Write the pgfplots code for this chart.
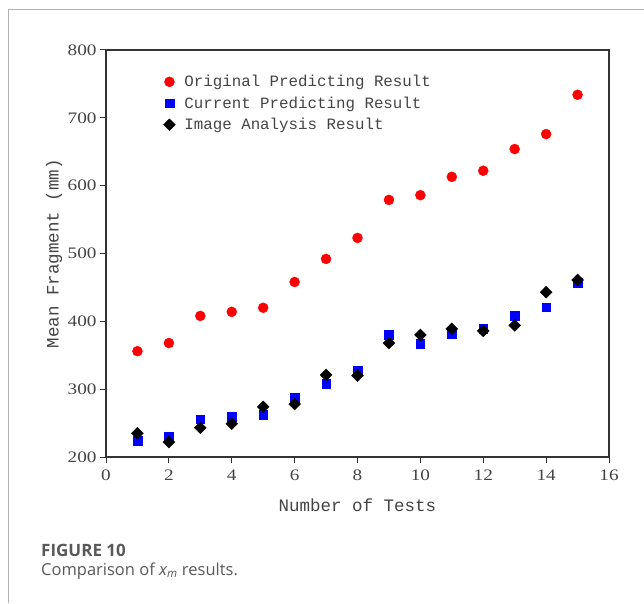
\documentclass[border=0pt]{standalone}
\usepackage{pgfplots}
\pgfplotsset{compat=1.18}
\usepackage{fontspec}
\setmainfont{Liberation Serif}
\newfontfamily\tickfont[FakeStretch=1.2]{Liberation Serif}
\newfontfamily\monofont{Liberation Mono}
\newfontfamily\capfont{Open Sans}
\definecolor{txt}{HTML}{444444}
\begin{document}
\begin{tikzpicture}[x=1pt,y=1pt]
\path[use as bounding box] (0,0) rectangle (644,603);
\draw[black!30, line width=1pt] (8,0) -- (8,593) -- (644,593);
\begin{axis}[
  at={(106pt,146pt)}, anchor=south west,
  scale only axis, width=503pt, height=407pt,
  xmin=0, xmax=16, ymin=200, ymax=800,
  xtick={0,2,...,16}, ytick={200,300,...,800},
  tick align=outside, xtick pos=left, ytick pos=left,
  major tick length=6pt,
  axis line style={black!80, line width=1.1pt},
  tick style={black!80, line width=1pt},
  tick label style={font=\tickfont\fontsize{16}{16}\selectfont, text=txt},
  xticklabel style={yshift=-3pt},
  /pgf/number format/assume math mode=true,
  xlabel={Number of Tests},
  ylabel={Mean Fragment (mm)},
  xlabel style={font=\monofont\fontsize{17.5}{17.5}\selectfont, text=txt, at={(axis description cs:0.5,-0.095)}, anchor=north},
  ylabel style={font=\monofont\fontsize{17.5}{17.5}\selectfont, text=txt, at={(axis description cs:-0.103,0.5)}, anchor=center},
  legend style={draw=none, fill=none, at={(axis description cs:0.108,0.948)}, anchor=north west,
    font=\monofont\fontsize{15.8}{15.8}\selectfont, text=txt, row sep=4.5pt, column sep=7pt},
  legend cell align=left,
]
\addplot[only marks, mark=*, mark size=5pt, color=red, mark options={fill=red, draw=red}] coordinates {
(1,356) (2,368) (3,408) (4,414) (5,420) (6,458) (7,492) (8,523) (9,579) (10,586) (11,613) (12,622) (13,654) (14,676) (15,734)};
\addlegendentry{Original Predicting Result}
\addplot[only marks, mark=square*, mark size=4.3pt, color=blue, mark options={fill=blue, draw=blue}] coordinates {
(1,224) (2,230) (3,256) (4,259) (5,262) (6,287) (7,308) (8,328) (9,380) (10,367) (11,381) (12,389) (13,408) (14,421) (15,457)};
\addlegendentry{Current Predicting Result}
\addplot[only marks, mark=square*, mark size=4.2pt, color=black, mark options={fill=black, draw=black, rotate=45}] coordinates {
(1,235) (2,222) (3,243) (4,249) (5,274) (6,278) (7,321) (8,320) (9,368) (10,380) (11,389) (12,386) (13,394) (14,443) (15,461)};
\addlegendentry{Image Analysis Result}
\end{axis}
\node[anchor=base west, inner sep=0pt, text=black!65, font=\capfont\bfseries\fontsize{17}{17}\selectfont] at (41,47) {FIGURE 10};
\node[anchor=base west, inner sep=0pt, text=black!65, font=\capfont\fontsize{16.5}{16.5}\selectfont] at (41,28) {Comparison of {\itshape x}\textsubscript{\itshape m} results.};
\end{tikzpicture}
\end{document}
